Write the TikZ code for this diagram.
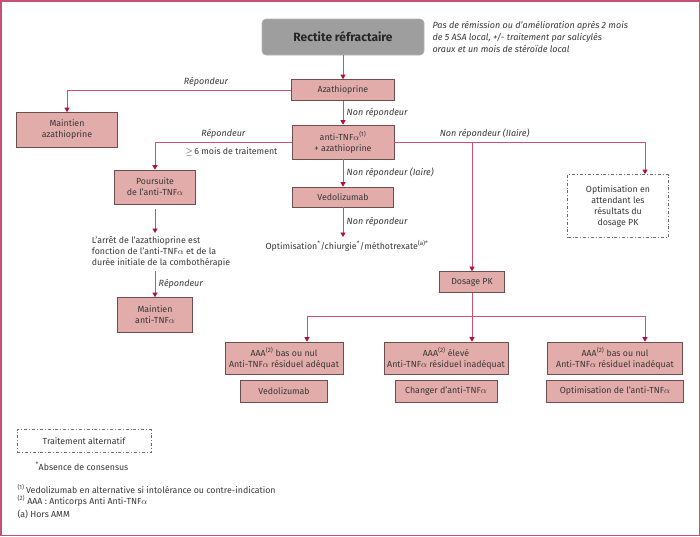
\documentclass[tikz,border=0pt]{standalone}
\usepackage{fontspec}
\setmainfont{Fira Sans}
\usetikzlibrary{arrows.meta}

\definecolor{boxpink}{RGB}{226,172,170}
\definecolor{boxedge}{RGB}{110,78,78}
\definecolor{linkpink}{RGB}{205,80,115}
\definecolor{tipred}{RGB}{180,15,60}
\definecolor{framepink}{RGB}{196,80,115}
\definecolor{txtgray}{RGB}{55,55,55}
\definecolor{headgray}{RGB}{158,158,158}
\newcommand{\tnf}{TNF\ensuremath{\alpha}}

\begin{document}
\begin{tikzpicture}[
        x=1pt, y=-1pt,
        every node/.style={font=\fontsize{8.8}{11}\selectfont, text=txtgray},
        box/.style={draw=boxedge, fill=boxpink, line width=0.6pt, align=center, inner sep=0pt},
        head/.style={draw=gray!60, fill=headgray, rounded corners=4pt, line width=0.6pt,
                font=\fontsize{12}{14}\selectfont\bfseries, text=black!85},
        altbox/.style={draw=gray!85!black, dash pattern=on 3pt off 2pt on 0.8pt off 2pt,
                line width=0.7pt, align=center, inner sep=0pt},
        link/.style={draw=linkpink, line width=0.8pt},
        arr/.style={link, -{Triangle[width=5pt,length=4.5pt,color=tipred]}},
        lbl/.style={font=\fontsize{9}{12}\selectfont\itshape}
    ]

    \useasboundingbox (0,0) rectangle (700,536);
    \draw[framepink, line width=1.5pt] (0.75,0.75) rectangle (699.25,535.25);

    % top of the chart
    \node[head, minimum width=162, minimum height=36] (rect) at (343,37) {Rectite réfractaire};
    \node[lbl, anchor=west, align=left] (cond) at (429,37)
        {Pas de rémission ou d'amélioration après 2 mois\\
         de 5 ASA local, +/- traitement par salicylés\\
         oraux et un mois de stéroïde local};

    \node[box, minimum width=103, minimum height=21] (aza) at (343,90) {Azathioprine};
    \node[box, minimum width=101, minimum height=35] (maza) at (67,130) {Maintien\\azathioprine};
    \node[box, minimum width=102, minimum height=34] (combo) at (343,142)
        {anti-\tnf\textsuperscript{(1)}\\+ azathioprine};

    % left branch
    \node[box, minimum width=81, minimum height=34] (pours) at (155,187) {Poursuite\\de l'anti-\tnf};
    \node[align=left] (arret) at (161,252)
        {L'arrêt de l'azathioprine est\\
         fonction de l'anti-\tnf{} et de la\\
         durée initiale de la combothérapie};
    \node[box, minimum width=75, minimum height=35] (mtnf) at (155,315) {Maintien\\anti-\tnf};

    % middle branch
    \node[box, minimum width=101, minimum height=20] (vedo) at (343,197) {Vedolizumab};
    \node (optmtx) at (347,246)
        {Optimisation\textsuperscript{*}/chiurgie\textsuperscript{*}/méthotrexate\textsuperscript{(a)*}};

    % right branch
    \node[altbox, minimum width=101, minimum height=63] (attente) at (618,206)
        {Optimisation en\\attendant les\\résultats du\\dosage PK};
    \node[box, minimum width=65, minimum height=21] (pk) at (472,282) {Dosage PK};
    \coordinate (fork) at (472,316);

    \node[box, minimum width=118, minimum height=32] (aaa1) at (284,358)
        {AAA\textsuperscript{(2)} bas ou nul\\Anti-\tnf{} résiduel adéquat};
    \node[box, minimum width=124, minimum height=32] (aaa2) at (446,358)
        {AAA\textsuperscript{(2)} élevé\\Anti-\tnf{} résiduel inadéquat};
    \node[box, minimum width=135, minimum height=32] (aaa3) at (615,358)
        {AAA\textsuperscript{(2)} bas ou nul\\Anti-\tnf{} résiduel inadéquat};
    \node[box, minimum width=87, minimum height=22] (res1) at (284,391) {Vedolizumab};
    \node[box, minimum width=102, minimum height=22] (res2) at (446,391) {Changer d'anti-\tnf};
    \node[box, minimum width=137, minimum height=22] (res3) at (615,391) {Optimisation de l'anti-\tnf};

    % legend
    \node[altbox, minimum width=134, minimum height=23] (alt) at (84,441) {Traitement alternatif};
    \node[anchor=west] (cons) at (32,466) {\textsuperscript{*}Absence de consensus};
    \node[anchor=west] (fn1) at (14,489)
        {\textsuperscript{(1)}\,Vedolizumab en alternative si intolérance ou contre-indication};
    \node[anchor=west] (fn2) at (14,501) {\textsuperscript{(2)} AAA : Anticorps Anti Anti-\tnf};
    \node[anchor=west] (fn3) at (14,514) {(a) Hors AMM};

    % connectors
    \draw[arr] (rect) -- (aza);
    \draw[arr] (aza.west) -| node[lbl, above, pos=0.19] {Répondeur} (maza.north);
    \draw[arr] (aza) -- node[lbl, right] {Non répondeur} (combo);
    \draw[arr] (combo.west) -| node[lbl, above, pos=0.25] {Répondeur}
        node[below=2pt, pos=0.22] {$\geq$\,6 mois de traitement} (pours.north);
    \draw[arr, shorten <=5pt] (pours) -- (pours.south |- arret.north);
    \draw[arr] (pours.south |- arret.south) -- node[lbl, right] {Répondeur} (mtnf);
    \draw[arr] (combo) -- node[lbl, right] {Non répondeur (Iaire)} (vedo);
    \draw[arr] (vedo) -- node[lbl, right] {Non répondeur} (vedo.south |- optmtx.north);
    \draw[arr] (combo.east) -| node[lbl, above, pos=0.18] {Non répondeur (IIaire)}
        ([xshift=27pt]attente.north);
    \draw[arr] (pk.north |- combo.east) -- (pk.north);
    \draw[link] (pk) -- (fork);
    \draw[arr] (fork) -| ([xshift=23pt]aaa1.north);
    \draw[arr] (fork) -- (fork |- aaa2.north);
    \draw[arr] (fork) -| ([xshift=30pt]aaa3.north);

\end{tikzpicture}
\end{document}
